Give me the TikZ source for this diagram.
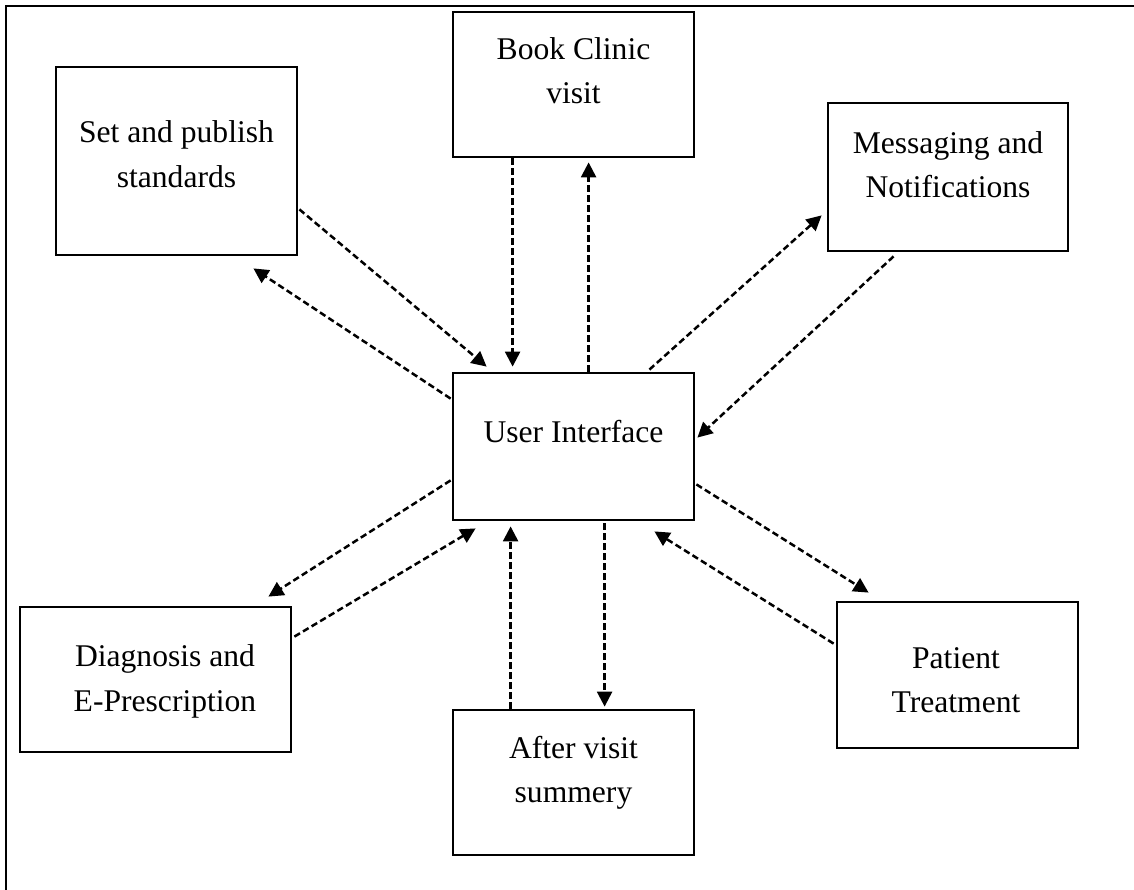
\documentclass[tikz,border=0pt]{standalone}
\usepackage{fontspec}
\setmainfont{Liberation Serif}
\usetikzlibrary{arrows.meta}
\begin{document}
\begin{tikzpicture}[x=1pt,y=-1pt,
  box/.style 2 args={draw, line width=2.8pt, inner sep=0pt,
    minimum width=#1, minimum height=#2},
  txt/.style={align=center, inner sep=0pt,
    font=\fontsize{31.6}{44.5}\selectfont},
  flow/.style={line width=2.5pt, dash pattern=on 6.5pt off 3.5pt,
    -{Triangle[length=15pt,width=15pt]}}]
\useasboundingbox (0,0) rectangle (1134,890);

% page frame
\draw[line width=1.8pt] (6,890) -- (6,6) -- (1134,6);

% boxes
\node[box={241pt}{188pt}] (set)   at (176.5,161)   {};
\node[box={241pt}{145pt}] (book)  at (573.5,84.5)  {};
\node[box={240pt}{148pt}] (msg)   at (948,177)     {};
\node[box={241pt}{147pt}] (ui)    at (573.5,446.5) {};
\node[box={271pt}{145pt}] (diag)  at (155.5,679.5) {};
\node[box={241pt}{145pt}] (after) at (573.5,782.5) {};
\node[box={241pt}{146pt}] (pat)   at (957.5,675)   {};

% labels
\node[txt] (settxt)   at (176.5,154)   {Set and publish\\standards};
\node[txt] (booktxt)  at (573.5,70.5)  {Book Clinic\\visit};
\node[txt] (msgtxt)   at (948,164.5)   {Messaging and\\Notifications};
\node[txt] (uitxt)    at (573.5,431.5) {User Interface};
\node[txt] (diagtxt)  at (165,681.5)   {Diagnosis and\\E-Prescription};
\node[txt] (aftertxt) at (573.5,773)   {After visit\\summery};
\node[txt] (pattxt)   at (956,680)     {Patient\\Treatment};

% connectors
\draw[flow] ([shift={(1,-47)}]set.south east) -- ([shift={(35,-5)}]ui.north west);
\draw[flow] ([shift={(-1,27)}]ui.north west) -- ([shift={(-45,12)}]set.south east);
\draw[flow] ([shift={(61,0)}]book.south west) -- ([shift={(61,-5)}]ui.north west);
\draw[flow] ([shift={(137,0)}]ui.north west) -- ([shift={(137,4)}]book.south west);
\draw[flow] ([shift={(-46,-2)}]ui.north east) -- ([shift={(-5,-37)}]msg.south west);
\draw[flow] ([shift={(67,4)}]msg.south west) -- ([shift={(2,66)}]ui.north east);
\draw[flow] ([shift={(-1,-41)}]ui.south west) -- ([shift={(-24,-9)}]diag.north east);
\draw[flow] ([shift={(2,31)}]diag.north east) -- ([shift={(24,7)}]ui.south west);
\draw[flow] ([shift={(59,0)}]after.north west) -- ([shift={(59,5)}]ui.south west);
\draw[flow] ([shift={(153,2)}]ui.south west) -- ([shift={(153,-2)}]after.north west);
\draw[flow] ([shift={(1,-37)}]ui.south east) -- ([shift={(33,-8)}]pat.north west);
\draw[flow] ([shift={(-2,43)}]pat.north west) -- ([shift={(-41,10)}]ui.south east);
\end{tikzpicture}
\end{document}
